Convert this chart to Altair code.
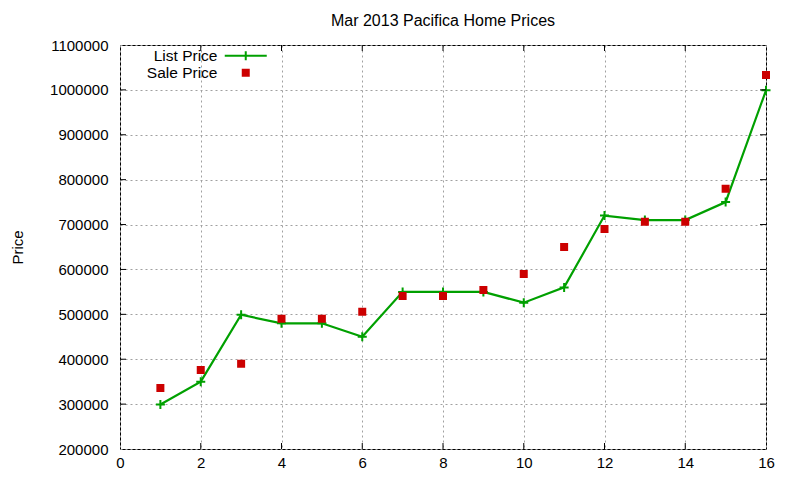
import altair as alt
import pandas as pd

# ---- data ----
house = list(range(1, 17))
list_price = [299000, 350000, 499000, 480000, 480000, 450000, 550000, 550000,
              550000, 526000, 560000, 720000, 710000, 710000, 750000, 999000]
sale_price = [336000, 376000, 390000, 490000, 490000, 506000, 541000, 541000,
              554000, 590000, 650000, 690000, 706000, 706000, 780000, 1033000]
series_names = ["List Price", "Sale Price"]
x_ticks = [0, 2, 4, 6, 8, 10, 12, 14, 16]
y_ticks = [200000, 300000, 400000, 500000, 600000, 700000, 800000, 900000,
           1000000, 1100000]
chart_title = "Mar 2013 Pacifica Home Prices"
y_title = "Price"

GREEN = "#00a000"
RED = "#cc0000"
FONT = "Liberation Sans"
PLUS = "M-1,0H1M0,-1V1"
LEGEND_LINE = "M-7,0H7M0,-1.5V1.5"

df = pd.DataFrame({
    "x": house * 2,
    "price": list_price + sale_price,
    "series": [series_names[0]] * len(house) + [series_names[1]] * len(house),
})
df_list = df[df.series == series_names[0]]
df_sale = df[df.series == series_names[1]]

xs = alt.Scale(domain=[x_ticks[0], x_ticks[-1]], nice=False)
ys = alt.Scale(domain=[y_ticks[0], y_ticks[-1]], nice=False)

xenc = alt.X("x:Q", scale=xs,
             axis=alt.Axis(values=x_ticks, title=None, format="d",
                           labelFlush=False, labelBound=False))
yenc = alt.Y("price:Q", scale=ys,
             axis=alt.Axis(values=y_ticks, title=y_title, format="d",
                           labelFlush=False, labelBound=False))

leg = alt.Legend(
    title=None, orient="none", legendX=118, legendY=3,
    labelAlign="right", labelOffset=alt.ExprRef("-36"), labelFont=FONT,
    labelFontSize=15.5, labelColor="black", symbolStrokeWidth=2,
    symbolSize=36, rowPadding=0, padding=0,
)
col_scale = alt.Scale(domain=series_names, range=[GREEN, RED])
fill_scale = alt.Scale(domain=series_names, range=[GREEN, RED])
shape_scale = alt.Scale(domain=series_names, range=[LEGEND_LINE, "square"])

line = alt.Chart(df_list).mark_line(color=GREEN, strokeWidth=2.2).encode(
    x=xenc, y=yenc)

plus_pts = alt.Chart(df_list).mark_point(
    shape=PLUS, filled=False, size=81, strokeWidth=2, opacity=1
).encode(x=xenc, y=yenc,
         stroke=alt.Stroke("series:N", scale=col_scale, legend=leg))

sale_pts = alt.Chart(df_sale).mark_point(
    filled=True, size=36, strokeWidth=2, opacity=1
).encode(x=xenc, y=yenc,
         stroke=alt.Stroke("series:N", scale=col_scale, legend=leg),
         fill=alt.Fill("series:N", scale=fill_scale, legend=leg),
         shape=alt.Shape("series:N", scale=shape_scale, legend=leg))

# inward ticks (gnuplot style)
yt = pd.DataFrame({"v": y_ticks[1:-1]})
xt = pd.DataFrame({"v": x_ticks[1:-1]})
TL = 6
left_t = alt.Chart(yt).mark_rule(color="black", x2Offset=TL).encode(
    x=alt.datum(x_ticks[0], scale=xs), x2=alt.datum(x_ticks[0]),
    y=alt.Y("v:Q", scale=ys))
right_t = alt.Chart(yt).mark_rule(color="black", xOffset=-TL).encode(
    x=alt.datum(x_ticks[-1], scale=xs), x2=alt.datum(x_ticks[-1]),
    y=alt.Y("v:Q", scale=ys))
bot_t = alt.Chart(xt).mark_rule(color="black", y2Offset=-TL).encode(
    y=alt.datum(y_ticks[0], scale=ys), y2=alt.datum(y_ticks[0]),
    x=alt.X("v:Q", scale=xs))
top_t = alt.Chart(xt).mark_rule(color="black", yOffset=TL).encode(
    y=alt.datum(y_ticks[-1], scale=ys), y2=alt.datum(y_ticks[-1]),
    x=alt.X("v:Q", scale=xs))

chart = alt.layer(line, plus_pts, sale_pts, left_t, right_t, bot_t, top_t).properties(
    width=646, height=404,
    background="white",
    title=alt.TitleParams(chart_title, font=FONT, fontSize=16,
                          fontWeight="normal", color="black", offset=9),
    autosize=alt.AutoSizeParams(type="none"),
    padding={"left": 112, "top": 37, "right": 26, "bottom": 23},
).configure_view(
    stroke="black", strokeWidth=1
).configure_axis(
    labelFont=FONT, labelFontSize=15, labelColor="black",
    titleFont=FONT, titleFontSize=15, titleFontWeight="normal",
    titleColor="black",
    domain=False, ticks=False, grid=True,
    gridColor="#a0a0a0", gridDash=[2, 3], gridWidth=1, gridOpacity=1,
).configure_axisY(
    labelPadding=12, titlePadding=24,
).configure_axisX(
    labelPadding=6,
)

chart.save("out.html", embed_options={"renderer": "svg", "actions": False})
